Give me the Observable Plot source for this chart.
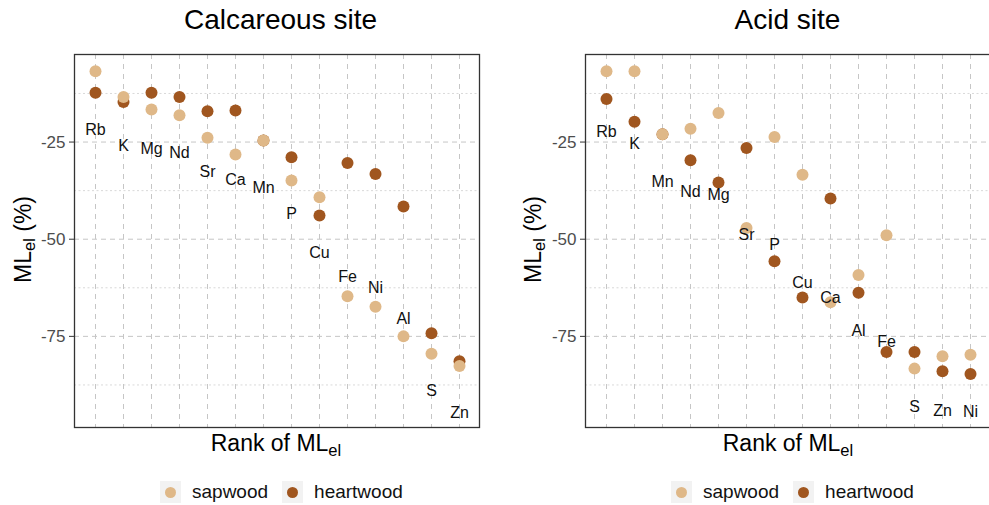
<!DOCTYPE html>
<html>
<head>
<meta charset="utf-8">
<script src="https://cdn.jsdelivr.net/npm/d3@7"></script>
<script src="https://cdn.jsdelivr.net/npm/@observablehq/plot@0.6"></script>
<style>
  body { margin: 0; background: #fff; font-family: "Liberation Sans", Arial, Helvetica, sans-serif; color: #000; }
  #wrap { position: relative; width: 989px; height: 505px; overflow: hidden; }
  .abs { position: absolute; }
  .title { font-size: 28px; line-height: 28px; text-align: center; white-space: nowrap; }
  .xtitle { font-size: 23px; line-height: 23px; text-align: center; white-space: nowrap; }
  .ytitle { font-size: 23px; line-height: 23px; text-align: center; white-space: nowrap; transform: rotate(-90deg); }
  sub { font-size: 0.72em; vertical-align: -0.28em; line-height: 0; }
  .legend { display: flex; align-items: center; height: 22px; font-size: 19px; line-height: 22px; color: #111; }
  .key { width: 21px; height: 22px; background: #f2f2f2; display: flex; align-items: center; justify-content: center; }
  .key span { width: 11px; height: 11px; border-radius: 50%; }
</style>
</head>
<body>
<div id="wrap">
  <div class="abs title" style="left:80px;top:6px;width:401px">Calcareous site</div>
  <div class="abs title" style="left:587px;top:6px;width:401px">Acid site</div>

  <div class="abs ytitle" style="left:-57px;top:228px;width:160px;height:23px">ML<sub>el</sub> (%)</div>
  <div class="abs ytitle" style="left:453px;top:228px;width:160px;height:23px">ML<sub>el</sub> (%)</div>

  <div class="abs" id="chart1" style="left:0px;top:44px;width:489px"></div>
  <div class="abs" id="chart2" style="left:494px;top:44px;width:500px"></div>

  <div class="abs xtitle" style="left:76px;top:432px;width:400px">Rank of ML<sub>el</sub></div>
  <div class="abs xtitle" style="left:588px;top:432px;width:400px">Rank of ML<sub>el</sub></div>

  <div class="abs legend" id="legend1" style="left:160px;top:481px"></div>
  <div class="abs legend" id="legend2" style="left:671px;top:481px"></div>
</div>
<script>
// calcareous site, elements in rank order
const calcEl = ["Rb", "K", "Mg", "Nd", "Sr", "Ca", "Mn", "P", "Cu", "Fe", "Ni", "Al", "S", "Zn"]
const calcSap = [-6.8, -13.4, -16.6, -18.1, -23.9, -28.2, -24.6, -34.9, -39.2, -64.7, -67.4, -75.0, -79.5, -82.6]
const calcHeart = [-12.3, -14.7, -12.3, -13.4, -17.1, -16.9, -24.6, -28.9, -43.9, -30.4, -33.2, -41.6, -74.2, -81.4]
const calcLabelY = [-21.8, -26.1, -26.7, -27.8, -32.6, -34.7, -36.8, -43.6, -53.5, -59.6, -62.4, -70.4, -89.0, -94.6]

// acid site
const acidEl = ["Rb", "K", "Mn", "Nd", "Mg", "Sr", "P", "Cu", "Ca", "Al", "Fe", "S", "Zn", "Ni"]
const acidSap = [-6.8, -6.8, -23.0, -21.6, -17.5, -47.1, -23.7, -33.4, -66.2, -59.2, -49.0, -83.3, -80.1, -79.7]
const acidHeart = [-13.9, -19.8, -23.0, -29.7, -35.4, -26.5, -55.7, -65.0, -39.5, -63.8, -79.0, -79.0, -84.0, -84.7]
const acidLabelY = [-22.4, -25.4, -35.3, -37.9, -38.7, -48.9, -51.5, -61.3, -65.0, -73.7, -76.3, -93.1, -94.2, -94.4]

const woods = ["sapwood", "heartwood"]
const woodColors = ["#DFB888", "#A0561F"]
const majorTicks = [-25, -50, -75]
const minorTicks = [-12.5, -37.5, -62.5, -87.5]

function panel(el, sap, heart, labY, width, marginLeft, marginRight) {
  // heartwood first so sapwood sits on top where they overlap
  let rows = []
  el.forEach((e, i) => rows.push({el: e, wood: "heartwood", v: heart[i]}))
  el.forEach((e, i) => rows.push({el: e, wood: "sapwood", v: sap[i]}))
  let labels = el.map((e, i) => ({el: e, v: labY[i]}))

  return Plot.plot({
    width: width,
    height: 390,
    marginLeft: marginLeft,
    marginRight: marginRight,
    marginTop: 10,
    marginBottom: 7,
    style: {fontFamily: "Liberation Sans, Arial, sans-serif", background: "transparent"},
    x: {type: "point", domain: el, padding: 0.6, axis: null},
    y: {domain: [-98.45, -2.47], axis: null},
    color: {domain: woods, range: woodColors},
    marks: [
      Plot.ruleY(minorTicks, {stroke: "#d9d9d9", strokeDasharray: "2,2.5"}),
      Plot.ruleY(majorTicks, {stroke: "#c6c6c6", strokeDasharray: "5,4"}),
      Plot.ruleX(el, {stroke: "#c6c6c6", strokeDasharray: "5,5"}),
      Plot.dot(rows, {x: "el", y: "v", fill: "wood", r: 6}),
      Plot.text(labels, {x: "el", y: "v", text: "el", fontSize: 16, fill: "#111"}),
      Plot.frame({stroke: "#333", strokeWidth: 1.3}),
      Plot.axisY(majorTicks, {
        tickSize: 5, tickPadding: 4, fontSize: 17,
        stroke: "#333", fill: "#4d4d4d",
        tickFormat: d => String(d), label: null
      })
    ]
  })
}

function legend(sel) {
  let box = d3.select(sel)
  woods.forEach((w, i) => {
    let key = box.append("div").attr("class", "key")
      .style("margin-left", i == 0 ? "0px" : "14px")
    key.append("span").style("background", woodColors[i])
    box.append("div").style("margin-left", "11px").text(w)
  })
}

d3.select("#chart1").append(() => panel(calcEl, calcSap, calcHeart, calcLabelY, 489, 74, 10))
d3.select("#chart2").append(() => panel(acidEl, acidSap, acidHeart, acidLabelY, 500, 91, 3))
legend("#legend1")
legend("#legend2")
</script>
</body>
</html>
